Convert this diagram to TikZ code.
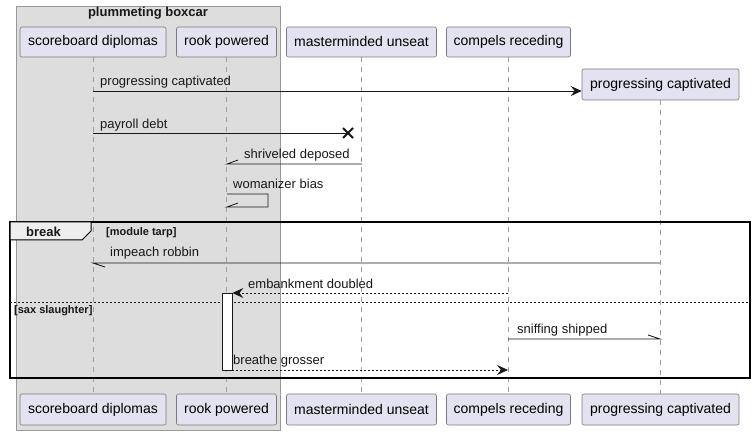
\documentclass[tikz,border=0pt]{standalone}
\usepackage{fontspec}
\setmainfont{Liberation Sans}
\usetikzlibrary{arrows.meta,calc}
\definecolor{partfill}{HTML}{E2E2F0}
\definecolor{partline}{HTML}{7A7A7A}
\definecolor{grpfill}{HTML}{DDDDDD}
\definecolor{grpline}{HTML}{999999}
\definecolor{tabfill}{HTML}{EEEEEE}
\definecolor{ink}{HTML}{181818}
\begin{document}
\begin{tikzpicture}[x=1pt,y=-1pt,
  part/.style={draw=partline,fill=partfill,rounded corners=2pt,line width=0.6pt,
    minimum height=30pt,inner sep=0pt,font=\fontsize{14}{16}\selectfont},
  life/.style={draw=gray!75,line width=0.6pt,dash pattern=on 5pt off 5pt},
  msg/.style={draw=ink,line width=0.8pt},
  rmsg/.style={draw=ink,line width=0.8pt,dash pattern=on 2pt off 2pt},
  tip/.style={-{Stealth[length=11pt,width=10pt,inset=4pt]}},
  mlabel/.style={anchor=base west,inner sep=0pt,font=\fontsize{13}{15}\selectfont,text=ink},
  glabel/.style={anchor=base west,inner sep=0pt,font=\bfseries\fontsize{11}{13}\selectfont,text=ink}]
\useasboundingbox (0,0) rectangle (755,435);
\fill[white] (0,0) rectangle (755,435);
% group box
\draw[fill=grpfill,draw=grpline,line width=0.8pt] (16,6) rectangle (280,430);
\node[anchor=base,inner sep=0pt,font=\bfseries\fontsize{13}{15}\selectfont,text=ink] (gtitle) at (148,17) {plummeting boxcar};
% participants top
\node[part,minimum width=146pt] (sd) at (93,42) {scoreboard diplomas};
\node[part,minimum width=100pt] (rp) at (226.5,42) {rook powered};
\node[part,minimum width=150pt] (mu) at (361.5,42) {masterminded unseat};
\node[part,minimum width=124pt] (cr) at (508.5,42) {compels receding};
\node[part,minimum width=157pt,minimum height=31pt] (pc) at (660.5,84.5) {progressing captivated};
% participants bottom
\node[part,minimum width=146pt,minimum height=31pt] (sdb) at (93,409.5) {scoreboard diplomas};
\node[part,minimum width=100pt,minimum height=31pt] (rpb) at (226.5,409.5) {rook powered};
\node[part,minimum width=150pt,minimum height=31pt] (mub) at (361.5,409.5) {masterminded unseat};
\node[part,minimum width=124pt,minimum height=31pt] (crb) at (508.5,409.5) {compels receding};
\node[part,minimum width=157pt,minimum height=31pt] (pcb) at (660.5,409.5) {progressing captivated};
% lifelines
\draw[life] (sd.south) -- (sdb.north);
\draw[life] (rp.south) -- (rpb.north);
\draw[life] (mu.south) -- (mub.north);
\draw[life] (cr.south) -- (crb.north);
\draw[life] (pc.south) -- (pcb.north);
% break frame
\draw[line width=1.5pt,draw=black] (10,222) rectangle (750,378);
\draw[fill=tabfill,draw=black,line width=1pt] (10,222) -- (91,222) -- (91,231) -- (82,240) -- (10,240) -- cycle;
\node[anchor=base west,inner sep=0pt,font=\bfseries\fontsize{13}{15}\selectfont,text=ink] (brk) at (26,237) {break};
\node[glabel] (g1) at (106,236) {[module tarp]};
\draw[draw=ink,line width=0.8pt,dash pattern=on 2pt off 2pt] (10,302) coordinate (sepL) -- (750,302) coordinate (sepR);
\node[glabel] (g2) at (14,314) {[sax slaughter]};
% activation
\node[draw=ink,fill=white,line width=0.8pt,minimum width=10pt,minimum height=77pt,inner sep=0pt] (act) at (227,331.5) {};
% coordinates on lifelines
\coordinate (m1a) at (93,91);   \coordinate (m1b) at (pc.west |- m1a);
\coordinate (m2a) at (93,133);  \coordinate (m2b) at (348,133);
\coordinate (m3a) at (362,164); \coordinate (m3b) at (227,164);
\coordinate (m4a) at (227,194); \coordinate (m4c) at (268,194); \coordinate (m4d) at (268,207); \coordinate (m4b) at (227,207);
\coordinate (m6a) at (660,263); \coordinate (m6b) at (93,263);
\coordinate (m7a) at (508,293); \coordinate (m7b) at (act.east |- m7a);
\coordinate (m10a) at (508,339); \coordinate (m10b) at (660,339);
\coordinate (m11a) at (act.east |- 0,370); \coordinate (m11b) at (508,370);
% messages
\draw[msg,tip] (m1a) -- (m1b);
\node[mlabel] (l1) at (100,86) {progressing captivated};
\draw[msg] (m2a) -- (m2b);
\draw[draw=ink,line width=1.8pt] ($(m2b)+(-5,-5)$) -- ($(m2b)+(5,5)$) ($(m2b)+(-5,5)$) -- ($(m2b)+(5,-5)$);
\node[mlabel] (l2) at (100,129) {payroll debt};
\draw[msg] (m3a) -- (m3b) -- ++(11,-4);
\node[mlabel] (l3) at (244,159) {shriveled deposed};
\draw[msg] (m4a) -- (m4c) -- (m4d) -- (m4b) -- ++(11,-4);
\node[mlabel] (l4) at (233,189) {womanizer bias};
\draw[msg] (m6a) -- (m6b) -- ++(12,4);
\node[mlabel] (l6) at (110,257) {impeach robbin};
\draw[rmsg,tip] (m7a) -- (m7b);
\node[mlabel] (l7) at (248,289) {embankment doubled};
\draw[msg] (m10a) -- (m10b) -- ++(-12,-4);
\node[mlabel] (l10) at (517,334) {sniffing shipped};
\draw[rmsg,tip] (m11a) -- (m11b);
\node[mlabel] (l11) at (233,365) {breathe grosser};
\end{tikzpicture}
\end{document}
